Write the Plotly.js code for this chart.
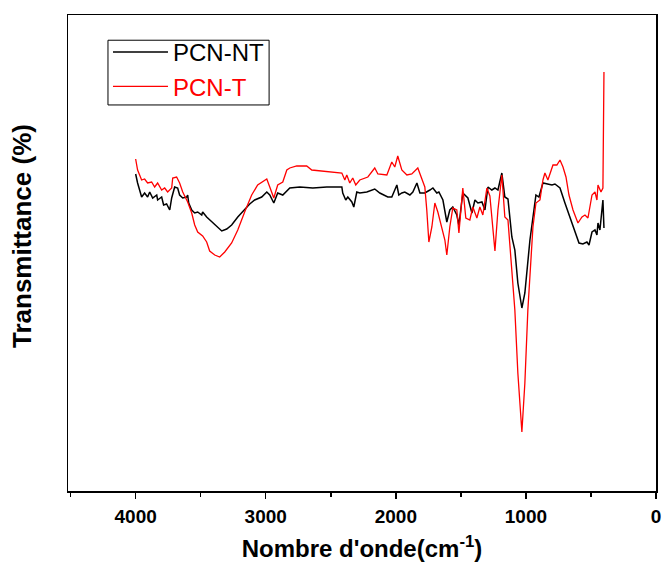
<!DOCTYPE html>
<html>
<head>
<meta charset="utf-8">
<script src="https://cdn.plot.ly/plotly-3.0.1.min.js"></script>
<style>html,body{margin:0;padding:0;background:#fff;}#chart{width:662px;height:568px;}</style>
</head>
<body>
<div id="chart"></div>
<script>
// PCN-NT (black) : wavenumber (cm-1) and transmittance (arbitrary %)
var wnNT = [4000,3985,3954,3931,3908,3892,3869,3838,3831,3800,3785,3762,3738,3723,3700,3677,3662,3638,3608,3600,3592,3569,3546,3523,3492,3485,3454,3415,3377,3338,3300,3262,3215,3162,3123,3085,3031,2992,2969,2938,2908,2869,2815,2738,2638,2531,2415,2408,2385,2369,2338,2323,2300,2277,2223,2162,2123,2062,2031,2008,1992,1977,1954,1931,1892,1869,1838,1815,1777,1738,1715,1685,1669,1638,1608,1585,1562,1531,1515,1485,1446,1415,1392,1369,1338,1315,1292,1262,1238,1215,1185,1162,1138,1108,1085,1062,1031,1008,969,923,900,869,831,800,777,738,700,662,623,592,562,531,515,492,469,454,446,431,408,400];
var tNT = [63.4,61.6,58.8,59.6,58.8,59.8,58.6,59.2,58.2,58.8,57.2,57.4,56.2,58.6,60.8,60.6,59.2,58.6,58.8,59.2,57.6,56.2,55.6,55.8,55.2,55.8,54.8,53.8,52.8,52.0,52.4,53.2,54.8,56.4,57.4,58.2,58.8,59.8,59.2,57.6,59.6,59.2,60.6,60.8,60.6,60.8,60.8,59.6,58.2,58.8,57.8,56.8,59.8,59.6,59.8,60.4,59.6,58.8,58.8,60.2,61.2,59.2,59.6,59.8,59.2,59.8,61.6,59.6,59.6,60.2,60.6,59.6,59.8,58.2,53.8,56.2,56.8,55.2,53.2,59.6,58.6,55.6,58.2,57.6,57.8,56.2,60.8,60.2,60.6,60.2,63.6,58.8,58.4,50.8,48.2,41.6,36.6,39.6,50.2,59.2,58.8,61.6,61.4,61.2,61.4,60.6,57.6,54.8,52.2,49.6,49.4,49.8,49.2,51.8,52.2,51.2,53.6,52.2,58.2,52.6];

// PCN-T (red)
var wnT = [4000,3985,3954,3931,3908,3877,3854,3831,3800,3777,3754,3723,3715,3685,3662,3638,3600,3569,3546,3523,3485,3454,3431,3392,3354,3315,3262,3215,3162,3108,3062,2992,2969,2938,2908,2869,2838,2815,2762,2685,2646,2415,2392,2377,2354,2331,2308,2277,2215,2162,2138,2069,2031,2008,1985,1954,1915,1877,1831,1800,1777,1762,1746,1723,1700,1677,1646,1623,1608,1585,1562,1531,1515,1485,1462,1431,1408,1377,1354,1331,1300,1277,1238,1215,1185,1162,1138,1108,1085,1062,1031,1008,985,946,923,892,869,854,831,792,762,738,715,692,669,638,600,569,546,523,492,469,454,446,423,408,400];
var tT = [66.4,64.2,62.2,62.4,61.6,61.8,60.8,61.6,60.2,60.6,59.8,60.6,62.6,62.8,61.6,59.8,57.8,55.6,53.2,51.8,51.0,49.8,48.0,47.2,46.8,47.8,49.6,52.2,55.8,59.2,61.2,62.4,60.8,58.6,61.2,61.8,64.2,64.6,65.0,65.0,64.2,63.6,62.2,63.2,61.6,62.6,61.2,62.2,62.8,64.6,63.4,63.2,65.8,64.8,67.0,64.2,63.2,63.4,64.6,62.2,60.8,56.2,49.8,52.8,57.6,55.8,52.8,50.2,47.2,52.8,56.6,56.2,51.6,60.6,54.6,54.2,56.8,54.6,56.8,55.2,60.6,59.0,48.0,56.2,63.2,54.8,54.2,44.2,36.2,23.6,11.8,21.6,36.2,52.8,57.6,58.2,62.2,63.6,62.2,65.2,65.2,66.2,64.8,62.8,59.2,56.2,53.6,54.8,55.2,54.6,59.2,59.8,58.2,61.2,59.8,60.6,83.8];

var seriesNames = ['PCN-NT', 'PCN-T'];
var xTitle = "Nombre d'onde(cm<sup>-1</sup>)";
var yTitle = 'Transmittance (%)';

var FONT = 'Liberation Sans, Arial, sans-serif';

var traces = [
  {x: wnNT, y: tNT, type: 'scatter', mode: 'lines', name: seriesNames[0],
   line: {color: '#000000', width: 1.5}},
  {x: wnT, y: tT, type: 'scatter', mode: 'lines', name: '<span style="color:#ff0000">' + seriesNames[1] + '</span>',
   line: {color: '#ff0000', width: 1.3}}
];

var layout = {
  width: 662, height: 568,
  margin: {l: 68, r: 6, t: 15, b: 77},
  paper_bgcolor: '#ffffff', plot_bgcolor: '#ffffff',
  showlegend: true,
  legend: {
    x: 0.068, y: 0.9685, xanchor: 'left', yanchor: 'top',
    borderwidth: 0, bgcolor: 'rgba(255,255,255,0)',
    font: {family: FONT, size: 24, color: '#000000'},
    itemwidth: 55, tracegroupgap: 0
  },
  shapes: [
    {type: 'rect', xref: 'paper', yref: 'paper', x0: 0.068, x1: 0.342, y0: 0.811, y1: 0.947,
     line: {color: '#000000', width: 1}, fillcolor: 'rgba(0,0,0,0)', layer: 'above'}
  ],
  annotations: [
    {text: yTitle, xref: 'paper', yref: 'paper', x: -0.078, y: 0.536,
     xanchor: 'center', yanchor: 'middle', textangle: -90, showarrow: false,
     font: {family: FONT, size: 26, color: '#000000', weight: 'bold'}}
  ],
  xaxis: {
    range: [4520, 0], autorange: false,
    showgrid: false, zeroline: false,
    showline: true, linecolor: '#000000', linewidth: 1.5, mirror: true,
    ticks: 'outside', ticklen: 6, tickwidth: 1.5, tickcolor: '#000000',
    tickmode: 'linear', tick0: 0, dtick: 1000,
    minor: {ticks: 'outside', ticklen: 4, tickwidth: 1.5, tickcolor: '#000000', dtick: 500, tick0: 0, showgrid: false},
    tickfont: {family: FONT, size: 19, color: '#000000', weight: 'bold'},
    ticklabelstandoff: 2,
    title: {text: xTitle, standoff: 14,
            font: {family: FONT, size: 24, color: '#000000', weight: 'bold'}}
  },
  yaxis: {
    range: [0, 95.2], autorange: false,
    showgrid: false, zeroline: false,
    showline: true, linecolor: '#000000', linewidth: 1.5, mirror: true,
    ticks: '', showticklabels: false
  }
};

Plotly.newPlot('chart', traces, layout, {displayModeBar: false, staticPlot: true});
</script>
</body>
</html>
